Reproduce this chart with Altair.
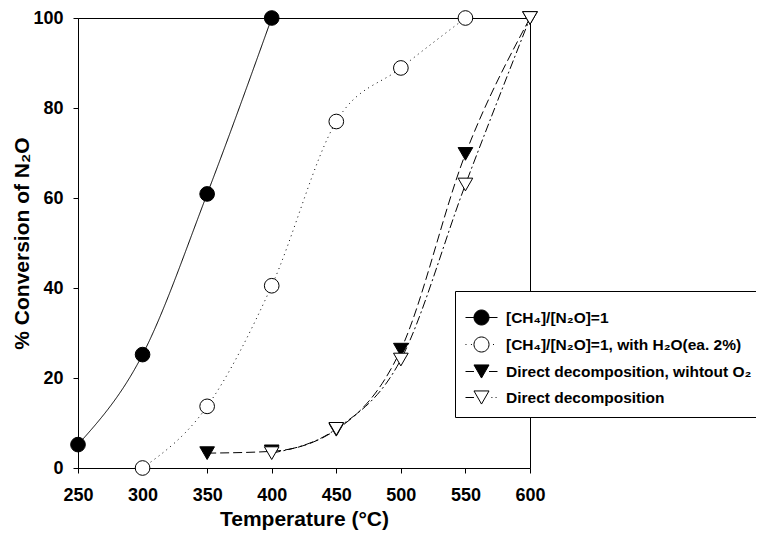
import altair as alt
import pandas as pd

# ---- data ----
series_labels = [
    "[CH₄]/[N₂O]=1",
    "[CH₄]/[N₂O]=1, with H₂O(ea. 2%)",
    "Direct decomposition, wihtout O₂",
    "Direct decomposition",
]
temps1 = [250, 300, 350, 400]
conv1 = [5.2, 25.2, 60.9, 100]
temps2 = [300, 350, 400, 450, 500, 550]
conv2 = [0, 13.7, 40.5, 77, 88.9, 100]
temps3 = [350, 400, 450, 500, 550, 600]
conv3 = [3.3, 3.7, 8.5, 26.3, 69.8, 100]
temps4 = [400, 450, 500, 550, 600]
conv4 = [3.3, 8.7, 24.1, 63, 100]
x_ticks = [250, 300, 350, 400, 450, 500, 550, 600]
y_ticks = [0, 20, 40, 60, 80, 100]

rows = []
for lab, ts, vs in zip(series_labels, [temps1, temps2, temps3, temps4], [conv1, conv2, conv3, conv4]):
    for t, v in zip(ts, vs):
        rows.append({"series": lab, "temp": t, "conv": v})
df = pd.DataFrame(rows)

FONT = "Liberation Sans"

dash_range = [[1, 0], [1, 4], [9, 4], [9, 3, 2, 3]]
shape_range = ["circle", "circle", "triangle-down", "triangle-down"]
fill_range = ["black", "white", "black", "white"]
stroke_range = ["black", "black", "black", "black"]

circ = "M-0.47,0A0.47,0.47,0,1,0,0.47,0A0.47,0.47,0,1,0,-0.47,0Z"
tri = "M0,0.41L-0.47,-0.41L0.47,-0.41Z"
legend_paths = [
    "M-1,0L-0.47,0M0.47,0L1,0" + circ,
    "M-1,0L-0.94,0M-0.66,0L-0.6,0M0.72,0L0.78,0" + circ,
    "M-1,0L-0.47,0M0.47,0L1,0" + tri,
    "M-1,0L-0.47,0M0.62,0L0.68,0M0.88,0L0.94,0" + tri,
]

x_enc = alt.X("temp:Q", scale=alt.Scale(domain=[250, 600], nice=False, zero=False),
              axis=alt.Axis(values=x_ticks, title="Temperature (°C)", format="d",
                            titleY=57, titleBaseline="alphabetic", labelPadding=13))
y_enc = alt.Y("conv:Q", scale=alt.Scale(domain=[0, 100], nice=False),
              axis=alt.Axis(values=y_ticks, title="% Conversion of N₂O",
                            titleX=-56, titleBaseline="middle", labelPadding=10))

lines = alt.Chart(df).mark_line(color="black", strokeWidth=1, interpolate="monotone", clip=False).encode(
    x=x_enc, y=y_enc,
    strokeDash=alt.StrokeDash("series:N", scale=alt.Scale(domain=series_labels, range=dash_range), legend=None),
)

points = alt.Chart(df).mark_point(stroke="black", strokeWidth=1, size=215, opacity=1, fillOpacity=1, clip=False).encode(
    x=x_enc, y=y_enc,
    shape=alt.Shape("series:N", scale=alt.Scale(domain=series_labels, range=shape_range), legend=None),
    fill=alt.Fill("series:N", scale=alt.Scale(domain=series_labels, range=fill_range), legend=None),
)

leg = alt.Legend(
    title=None, orient="none", legendX=377, legendY=273,
    padding=10, strokeColor="black", fillColor="white", cornerRadius=0,
    labelFont=FONT, labelFontSize=15.5, labelFontWeight="bold", labelColor="black",
    labelOffset=8, labelLimit=500,
    symbolOpacity=1, symbolStrokeWidth=1, symbolSize=1024,
    rowPadding=-1,
)

legend_layer = alt.Chart(df).mark_point(size=1024, strokeWidth=1, opacity=0).encode(
    x=x_enc, y=y_enc,
    shape=alt.Shape("series:N", scale=alt.Scale(domain=series_labels, range=legend_paths), legend=leg),
    fill=alt.Fill("series:N", scale=alt.Scale(domain=series_labels, range=fill_range), legend=leg),
    stroke=alt.Stroke("series:N", scale=alt.Scale(domain=series_labels, range=stroke_range), legend=leg),
)

chart = alt.layer(lines, points, legend_layer).resolve_scale(
    shape="independent", fill="independent", stroke="independent"
).properties(
    width=452, height=450,
    padding={"left": 70, "top": 10, "right": 226, "bottom": 62},
    autosize=alt.AutoSizeParams(type="none"),
).configure_view(
    stroke="black", strokeWidth=1
).configure_axis(
    grid=False, domainColor="black", tickColor="black", tickSize=5,
    labelFont=FONT, labelFontSize=18, labelFontWeight="bold", labelColor="black",
    titleFont=FONT, titleFontSize=21, titleFontWeight="bold", titleColor="black",
    labelFlush=False,
)

chart.save("out.html", embed_options={"renderer": "svg", "actions": False})
